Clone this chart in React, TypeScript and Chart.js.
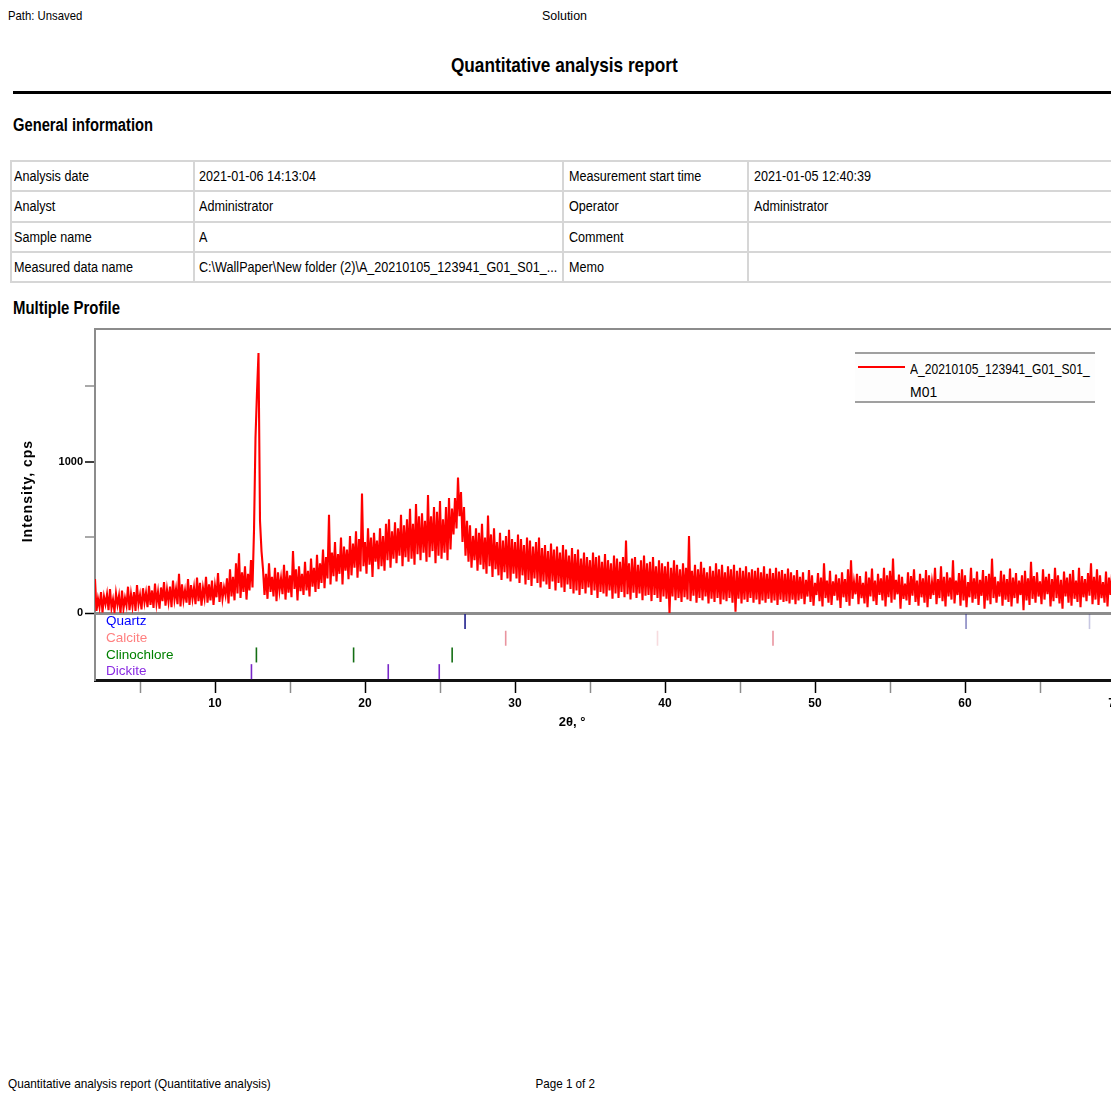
import React, { useEffect, useLayoutEffect, useRef } from 'react';
import { Chart, registerables } from 'chart.js';

Chart.register(...registerables);

// ---------- data ----------
const TWO_THETA_START = 2.0;
const TWO_THETA_STEP = 0.1;
const INTENSITY_CPS = [
  225, 15, 95, 40, 140, 5, 110, 60, 125, 20,
  160, 35, 90, 10, 130, 55, 115, 0, 150, 30,
  100, 50, 175, 20, 125, 45, 140, 15, 185, 60,
  120, 25, 165, 70, 135, 40, 180, 55, 150, 35,
  195, 65, 140, 30, 170, 80, 205, 50, 155, 75,
  175, 40, 215, 90, 160, 60, 260, 45, 190, 85,
  150, 70, 225, 55, 185, 95, 170, 60, 235, 80,
  200, 50, 165, 100, 240, 70, 190, 85, 215, 55,
  180, 105, 265, 75, 205, 95, 170, 120, 230, 65,
  290, 110, 240, 85, 330, 130, 395, 100, 270, 140,
  310, 90, 260, 150, 350, 170, 545, 1160, 1460, 1717,
  610, 410, 290, 120, 260, 95, 330, 140, 240, 110,
  300, 80, 270, 150, 230, 125, 320, 90, 280, 135,
  250, 105, 410, 160, 290, 85, 310, 145, 260, 120,
  340, 150, 280, 110, 360, 175, 300, 140, 385, 160,
  330, 200, 420, 165, 370, 230, 650, 190, 400, 245,
  470, 210, 390, 260, 500, 190, 440, 280, 420, 225,
  510, 250, 460, 300, 540, 235, 490, 275, 790, 310,
  470, 260, 560, 320, 500, 240, 530, 340, 480, 290,
  560, 310, 510, 280, 590, 350, 620, 300, 540, 360,
  600, 330, 560, 380, 650, 310, 580, 370, 620, 340,
  690, 360, 590, 320, 720, 390, 640, 350, 660, 400,
  610, 340, 780, 370, 640, 410, 700, 330, 670, 380,
  740, 360, 620, 400, 700, 350, 760, 420, 690, 520,
  760, 560, 895, 640, 800, 470, 700, 380, 610, 340,
  580, 300, 510, 350, 560, 280, 530, 320, 590, 290,
  500, 260, 645, 310, 520, 240, 560, 290, 470, 250,
  530, 220, 480, 270, 510, 230, 550, 210, 490, 260,
  470, 230, 520, 200, 490, 250, 450, 190, 500, 220,
  480, 180, 440, 230, 470, 200, 500, 170, 430, 210,
  450, 190, 410, 160, 460, 210, 420, 150, 440, 200,
  400, 170, 450, 140, 420, 190, 380, 160, 430, 130,
  390, 150, 420, 120, 360, 160, 400, 130, 370, 170,
  350, 120, 400, 150, 370, 100, 380, 140, 340, 130,
  390, 110, 350, 150, 330, 95, 380, 130, 360, 100,
  340, 140, 370, 105, 480, 125, 330, 90, 360, 135,
  370, 100, 320, 130, 350, 85, 380, 115, 330, 120,
  340, 80, 370, 120, 310, 100, 350, 75, 330, 110,
  310, 95, 340, 0, 300, 110, 350, 85, 320, 100,
  290, 75, 330, 105, 300, 90, 510, 80, 280, 115,
  320, 70, 290, 100, 340, 85, 300, 110, 270, 65,
  310, 95, 280, 75, 330, 100, 290, 60, 320, 90,
  270, 80, 310, 100, 290, 70, 320, 10, 280, 95,
  300, 65, 280, 90, 310, 75, 270, 100, 290, 70,
  280, 90, 300, 60, 270, 85, 310, 70, 260, 95,
  295, 70, 265, 85, 300, 55, 275, 90, 285, 75,
  260, 80, 295, 65, 270, 90, 250, 60, 285, 85,
  240, 95, 270, 60, 220, 110, 285, 75, 250, 50,
  200, 120, 265, 80, 235, 45, 330, 100, 215, 70,
  280, 55, 210, 115, 255, 85, 230, 35, 270, 105,
  225, 75, 290, 50, 350, 95, 205, 125, 260, 60,
  245, 100, 200, 65, 275, 40, 235, 110, 295, 80,
  215, 55, 260, 120, 230, 85, 300, 45, 250, 105,
  280, 70, 360, 90, 220, 125, 255, 30, 240, 95,
  195, 85, 270, 55, 245, 115, 290, 75, 215, 50,
  260, 105, 230, 70, 285, 40, 250, 95, 205, 120,
  300, 60, 225, 100, 310, 80, 240, 45, 270, 110,
  235, 90, 350, 65, 215, 120, 265, 50, 290, 85,
  250, 40, 205, 105, 300, 70, 230, 95, 275, 55,
  220, 115, 285, 30, 245, 85, 260, 60, 360, 100,
  240, 70, 210, 110, 280, 50, 255, 90, 225, 75,
  295, 45, 235, 100, 265, 65, 215, 120, 250, 20,
  280, 85, 230, 55, 340, 95, 245, 70, 270, 110,
  210, 60, 290, 90, 240, 125, 260, 45, 225, 80,
  300, 100, 250, 65, 220, 30, 275, 110, 235, 70,
  260, 50, 285, 95, 215, 75, 300, 40, 245, 105,
  225, 80, 265, 115, 330, 60, 240, 90, 290, 55,
  250, 100, 205, 70, 275, 45, 235, 120, 260, 85,
  290, 65, 230, 95, 300, 50, 255, 110, 215, 75,
  250,
];

const SERIES_NAME = 'A_20210105_123941_G01_S01_M01';
const SERIES_NAME_WRAP_AT = 26;
const PHASE_NAMES = ['Quartz', 'Calcite', 'Clinochlore', 'Dickite'];
const QUARTZ_2THETA = [26.67, 60.07, 68.3];
const QUARTZ_REL = [100, 45, 12];
const CALCITE_2THETA = [29.38, 39.5, 47.2];
const CALCITE_REL = [70, 12, 70];
const CLINOCHLORE_2THETA = [12.76, 19.24, 25.81];
const CLINOCHLORE_REL = [100, 100, 100];
const DICKITE_2THETA = [12.43, 21.55, 24.95];
const DICKITE_REL = [100, 100, 100];

const X_TICK_VALUES = [5, 10, 15, 20, 25, 30, 35, 40, 45, 50, 55, 60, 65, 70];
const X_LABELED = [10, 20, 30, 40, 50, 60, 70];
const Y_TICK_VALUES = [0, 500, 1000, 1500];
const Y_LABELED = [0, 1000];
const X_MIN = 2;
const X_MAX = 72;
const Y_MIN = 0;
const Y_MAX = 1875;
const X_TITLE = '2θ, °';
const Y_TITLE = 'Intensity, cps';

const INFO_LEFT_LABELS = ['Analysis date', 'Analyst', 'Sample name', 'Measured data name'];
const INFO_LEFT_VALUES = ['2021-01-06 14:13:04', 'Administrator', 'A', 'C:\\WallPaper\\New folder (2)\\A_20210105_123941_G01_S01_...'];
const INFO_RIGHT_LABELS = ['Measurement start time', 'Operator', 'Comment', 'Memo'];
const INFO_RIGHT_VALUES = ['2021-01-05 12:40:39', 'Administrator', '', ''];

// ---------- styles ----------
const SANS = '"Liberation Sans", Arial, sans-serif';
const FRAME_GRAY = '#8c8c8c';

const PHASE_STYLE = [
  { label: '#0000ff', marker: [30, 30, 140] },
  { label: '#ff8080', marker: [225, 110, 125] },
  { label: '#008000', marker: [20, 110, 20] },
  { label: '#8a2be2', marker: [120, 40, 200] },
];

const axisTitlePlugin = {
  id: 'axisTitlePlugin',
  afterDraw(chart: any) {
    const { ctx, chartArea } = chart;
    ctx.save();
    ctx.fillStyle = '#000';
    ctx.textAlign = 'center';
    ctx.textBaseline = 'middle';
    ctx.font = `bold 14px ${SANS}`;
    try { (ctx as any).letterSpacing = '1px'; } catch (e) {}
    ctx.translate(chartArea.left - 67, chartArea.top + 162);
    ctx.rotate(-Math.PI / 2);
    ctx.fillText(Y_TITLE, 0, 0);
    ctx.restore();
    ctx.save();
    ctx.fillStyle = '#000';
    ctx.textAlign = 'center';
    ctx.textBaseline = 'middle';
    ctx.font = `bold 13px ${SANS}`;
    ctx.fillText(X_TITLE, chartArea.left + 477, chartArea.bottom + 42);
    ctx.restore();
  },
};

function XrdChart() {
  const ref = useRef<HTMLCanvasElement>(null);
  useEffect(() => {
    const profile = INTENSITY_CPS.map((v, i) => ({
      x: Math.round((TWO_THETA_START + i * TWO_THETA_STEP) * 100) / 100,
      y: v,
    }));
    const phaseSets = [
      [QUARTZ_2THETA, QUARTZ_REL],
      [CALCITE_2THETA, CALCITE_REL],
      [CLINOCHLORE_2THETA, CLINOCHLORE_REL],
      [DICKITE_2THETA, DICKITE_REL],
    ].map(([pos, rel], k) => {
      const m = PHASE_STYLE[k].marker;
      return {
        type: 'scatter' as const,
        label: PHASE_NAMES[k],
        data: pos.map((x) => ({ x, y: PHASE_NAMES[k] })),
        xAxisID: 'x',
        yAxisID: 'y2',
        showLine: false,
        pointStyle: 'line',
        rotation: 90,
        pointRadius: 7.5,
        pointBorderWidth: 1.6,
        pointBorderColor: (c: any) =>
          `rgba(${m[0]},${m[1]},${m[2]},${(0.15 + 0.85 * (rel[c.dataIndex] ?? 100) / 100).toFixed(2)})`,
        pointBackgroundColor: 'transparent',
      };
    });

    const chart = new Chart(ref.current as HTMLCanvasElement, {
      type: 'line',
      data: {
        datasets: [
          {
            type: 'line',
            label: SERIES_NAME,
            data: profile,
            xAxisID: 'x',
            yAxisID: 'y',
            borderColor: '#ff0000',
            borderWidth: 2.1,
            pointRadius: 0,
            tension: 0,
            fill: false,
          } as any,
          ...(phaseSets as any[]),
        ],
      },
      options: {
        responsive: false,
        animation: false,
        events: [],
        devicePixelRatio: 1,
        layout: { padding: { top: 8, left: 0, right: 15, bottom: 20 } },
        plugins: { legend: { display: false }, tooltip: { enabled: false } },
        scales: {
          x: {
            type: 'linear',
            position: 'bottom',
            min: X_MIN,
            max: X_MAX,
            afterBuildTicks: (s: any) => { s.ticks = X_TICK_VALUES.map((v) => ({ value: v })); },
            ticks: {
              autoSkip: false,
              maxRotation: 0,
              padding: 3,
              color: '#000',
              font: { family: SANS, weight: 'bold', size: 12 },
              callback: (v: any) => (X_LABELED.includes(Number(v)) ? String(v) : ''),
            },
            grid: {
              drawOnChartArea: false,
              tickLength: 13,
              tickWidth: 1.5,
              tickColor: (c: any) => (c.tick && X_LABELED.includes(c.tick.value) ? '#000' : FRAME_GRAY),
            },
            border: { color: '#111', width: 3 },
            afterFit: (s: any) => { s.height = 40; s.paddingLeft = 0; s.paddingRight = 0; },
          },
          x2: {
            type: 'linear',
            position: 'top',
            min: X_MIN,
            max: X_MAX,
            grid: { display: false },
            ticks: { display: false },
            border: { color: FRAME_GRAY, width: 2 },
            afterFit: (s: any) => { s.height = 0; s.paddingLeft = 0; s.paddingRight = 0; },
          },
          y: {
            type: 'linear',
            position: 'left',
            stack: 'xrd',
            stackWeight: 285,
            weight: 2,
            min: Y_MIN,
            max: Y_MAX,
            afterBuildTicks: (s: any) => { s.ticks = Y_TICK_VALUES.map((v) => ({ value: v })); },
            ticks: {
              padding: 2,
              color: '#000',
              font: { family: SANS, weight: 'bold', size: 11 },
              callback: (v: any) => (Y_LABELED.includes(Number(v)) ? String(v) : ''),
            },
            grid: {
              drawOnChartArea: true,
              color: (c: any) => (c.tick && c.tick.value === 0 ? FRAME_GRAY : 'rgba(0,0,0,0)'),
              lineWidth: (c: any) => (c.tick && c.tick.value === 0 ? 3 : 0),
              tickLength: 10,
              tickWidth: 1.5,
              tickColor: (c: any) => (c.tick && Y_LABELED.includes(c.tick.value) ? '#000' : FRAME_GRAY),
            },
            border: { color: FRAME_GRAY, width: 2 },
            afterFit: (s: any) => { s.width = 95; s.paddingTop = 0; s.paddingBottom = 0; },
          },
          y2: {
            type: 'category',
            labels: PHASE_NAMES,
            offset: true,
            position: 'left',
            stack: 'xrd',
            stackWeight: 67,
            weight: 1,
            grid: { display: false },
            border: { color: FRAME_GRAY, width: 2 },
            ticks: {
              mirror: true,
              padding: 11,
              autoSkip: false,
              font: { family: SANS, size: 13.5 },
              color: (c: any) => (PHASE_STYLE[c.index] ? PHASE_STYLE[c.index].label : '#000'),
            },
            afterFit: (s: any) => { s.width = 95; s.paddingTop = 0; s.paddingBottom = 0; },
          },
        },
      } as any,
      plugins: [axisTitlePlugin],
    });
    return () => chart.destroy();
  }, []);
  return (
    <canvas
      ref={ref}
      width={1160}
      height={420}
      style={{ position: 'absolute', left: 0, top: 320, width: 1160, height: 420 }}
    />
  );
}

// Text squeezed horizontally to the narrow face used in the report
function Fit({ w, center, children }: { w: number; center?: boolean; children: React.ReactNode }) {
  const ref = useRef<HTMLSpanElement>(null);
  useLayoutEffect(() => {
    const el = ref.current;
    if (!el) return;
    el.style.transform = 'none';
    const a = el.offsetWidth;
    if (a > 0) el.style.transform = `scaleX(${w / a})`;
  }, [w]);
  return (
    <span
      ref={ref}
      style={{ display: 'inline-block', whiteSpace: 'nowrap', transformOrigin: center ? '50% 50%' : '0 50%' }}
    >
      {children}
    </span>
  );
}

const abs = (extra: React.CSSProperties): React.CSSProperties => ({
  position: 'absolute',
  whiteSpace: 'nowrap',
  ...extra,
});

const COL_PAD = [2, 4, 5, 5];

function InfoTable() {
  const cell = (text: string, key: string, col: number) => (
    <div
      key={key}
      style={{
        background: '#fff',
        fontSize: 14,
        lineHeight: '28px',
        paddingLeft: COL_PAD[col],
        whiteSpace: 'nowrap',
        overflow: 'hidden',
      }}
    >
      <span style={{ display: 'inline-block', transform: 'scaleX(0.9)', transformOrigin: '0 50%' }}>{text}</span>
    </div>
  );
  const cells: React.ReactNode[] = [];
  for (let i = 0; i < 4; i++) {
    cells.push(cell(INFO_LEFT_LABELS[i], `a${i}`, 0));
    cells.push(cell(INFO_LEFT_VALUES[i], `b${i}`, 1));
    cells.push(cell(INFO_RIGHT_LABELS[i], `c${i}`, 2));
    cells.push(cell(INFO_RIGHT_VALUES[i], `d${i}`, 3));
  }
  return (
    <div
      style={{
        position: 'absolute',
        left: 10,
        top: 160,
        width: 1130,
        display: 'grid',
        gridTemplateColumns: '181px 367px 183px 1fr',
        gridAutoRows: '28.3px',
        gap: 2,
        padding: 2,
        background: '#d6d6d6',
      }}
    >
      {cells}
    </div>
  );
}

export default function App() {
  return (
    <div
      style={{
        position: 'absolute',
        left: 0,
        top: 0,
        width: 1111,
        height: 1093,
        overflow: 'hidden',
        background: '#fff',
        fontFamily: SANS,
        color: '#000',
      }}
    >
      <div style={abs({ left: 8, top: 7, fontSize: 13, lineHeight: '18px' })}>
        <Fit w={74}>Path: Unsaved</Fit>
      </div>
      <div style={abs({ left: 0, width: 1129, top: 7, fontSize: 13, lineHeight: '18px', textAlign: 'center' })}>
        <Fit w={45} center>Solution</Fit>
      </div>
      <div style={abs({ left: 0, width: 1129, top: 52, fontSize: 21, lineHeight: '26px', fontWeight: 'bold', textAlign: 'center' })}>
        <Fit w={227} center>Quantitative analysis report</Fit>
      </div>
      <div style={{ position: 'absolute', left: 13, top: 91, width: 1110, height: 3, background: '#000' }} />
      <div style={abs({ left: 13, top: 113, fontSize: 18, lineHeight: '24px', fontWeight: 'bold' })}>
        <Fit w={140}>General information</Fit>
      </div>
      <InfoTable />
      <div style={abs({ left: 13, top: 296, fontSize: 18, lineHeight: '24px', fontWeight: 'bold' })}>
        <Fit w={107}>Multiple Profile</Fit>
      </div>
      <XrdChart />
      <div
        style={{
          position: 'absolute',
          left: 855,
          top: 352,
          width: 240,
          height: 47,
          borderTop: '2px solid #a0a0a0',
          borderBottom: '2px solid #a0a0a0',
          background: '#fdfdfd',
        }}
      >
        <div style={{ position: 'absolute', left: 3, top: 12, width: 47, height: 2, background: '#ff0000' }} />
        <div style={abs({ left: 55, top: 3, fontSize: 15, lineHeight: '23px' })}>
          <Fit w={180}>{SERIES_NAME.slice(0, SERIES_NAME_WRAP_AT)}</Fit>
        </div>
        <div style={abs({ left: 55, top: 26, fontSize: 15, lineHeight: '23px' })}>
          <Fit w={27}>{SERIES_NAME.slice(SERIES_NAME_WRAP_AT)}</Fit>
        </div>
      </div>
      <div style={abs({ left: 8, top: 1075, fontSize: 13, lineHeight: '18px' })}>
        <Fit w={263}>Quantitative analysis report (Quantitative analysis)</Fit>
      </div>
      <div style={abs({ left: 0, width: 1130, top: 1075, fontSize: 13, lineHeight: '18px', textAlign: 'center' })}>
        <Fit w={60} center>Page 1 of 2</Fit>
      </div>
    </div>
  );
}
